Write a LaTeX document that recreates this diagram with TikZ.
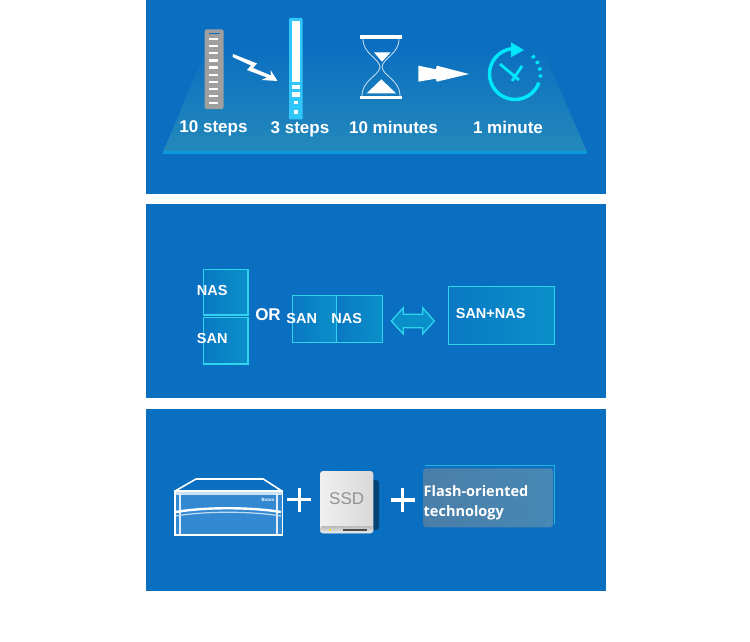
\documentclass[tikz,border=0pt]{standalone}
\usepackage{fontspec}
\setmainfont{Liberation Sans}
\newfontfamily\flashfont{Open Sans}
\usetikzlibrary{patterns,shadings}

\definecolor{panelblue}{HTML}{0A6EC1}
\definecolor{cellblue}{HTML}{0A90C9}
\definecolor{cellline}{HTML}{2FD3EC}
\definecolor{barcyan}{HTML}{2EC6FB}
\definecolor{clockcyan}{HTML}{00E6FA}
\definecolor{floorline}{HTML}{0A9ADC}
\definecolor{floormid}{HTML}{3A8CC8}
\definecolor{floorlow}{HTML}{2489BA}
\definecolor{unitblue}{HTML}{3289D2}
\definecolor{flashleft}{HTML}{4A7EA8}
\definecolor{flashmid}{HTML}{33699A}
\definecolor{flashright}{HTML}{4888B4}

\tikzset{
    panelbox/.style={fill=panelblue,draw=none},
    cellbox/.style={left color=panelblue!70!cellblue,right color=cellblue,draw=cellline,line width=1.3pt},
    steplabel/.style={text=white,font=\bfseries\fontsize{17}{20}\selectfont,inner sep=0pt},
    boxlabel/.style={text=white,font=\bfseries\fontsize{14.5}{18}\selectfont,inner sep=0pt},
    flashlabel/.style={anchor=west,text=white,font=\flashfont\bfseries\fontsize{14.5}{18}\selectfont,inner sep=0pt},
    clockline/.style={draw=clockcyan,line width=3.5pt},
    plusline/.style={draw=white,line width=3.4pt}
}

\begin{document}
\begin{tikzpicture}[x=1pt,y=-1pt]
    \useasboundingbox (0,0) rectangle (750,642);
    \fill[white] (0,0) rectangle (750,642);

    % panels
    \path[panelbox] (146,0) rectangle (606,194);
    \path[panelbox] (146,204) rectangle (606,398);
    \path[panelbox] (146,409) rectangle (606,591);

    % floor
    \shade[top color=panelblue,middle color=floormid,bottom color=floorlow]
        (163,152) -- (208,45) -- (541,45) -- (587,152) -- cycle;
    \fill[floorline] (163,151) rectangle (587,153.5);

    % 10 steps bar
    \fill[gray!75,rounded corners=1.5pt] (204.5,29.5) rectangle (223.5,109);
    \fill[panelblue] (208.5,33) rectangle (219.5,34.5);
    \foreach \y in {39,46,53.3,60.7,67.7,75,82.3,89.3,96,103}
        \fill[white] (209,\y-1.2) rectangle (218,\y+1.2);

    % 3 steps bar
    \fill[barcyan,rounded corners=1pt] (289,18) rectangle (302.7,119.3);
    \fill[white] (292.3,21) rectangle (299.7,81.7);
    \fill[white] (292.3,85) rectangle (299.7,88.7);
    \fill[white] (292.3,92.3) rectangle (299.7,97);
    \fill[white] (294,101) rectangle (298,104.3);
    \fill[white] (294,110.3) rectangle (298,113.7);

    % zigzag arrow
    \fill[white] (233,54) -- (257,63.5) -- (253,68) -- (271,75.5) -- (270.5,70) -- (277.5,81)
        -- (261.5,80) -- (267,77.5) -- (247,70) -- (251,65.5) -- (232.5,57) -- cycle;

    % hourglass
    \fill[white] (360,35) rectangle (402,39);
    \fill[white] (360,96) rectangle (402,99.3);
    \draw[white!80!panelblue,line width=0.8pt] (363,39) .. controls (363,54) and (379,58) .. (380,67)
        .. controls (379,76) and (362,80) .. (362,96);
    \draw[white!80!panelblue,line width=0.8pt] (399,39) .. controls (399,54) and (383,58) .. (382,67)
        .. controls (383,76) and (400,80) .. (400,96);
    \fill[white] (374,52.3) -- (390.7,52.3) -- (382,61.7) -- cycle;
    \fill[white] (366.7,93.3) -- (396,93.3) -- (381.3,79.3) -- cycle;

    % double head arrow
    \fill[white] (418.3,65.7) -- (436,69.3) -- (436.7,65.7) -- (469,74) -- (436.7,81.7)
        -- (435.7,78.7) -- (418.3,81.7) -- cycle;

    % clock
    \draw[clockline] (512.3,48.6) arc (-96:-340:25.5);
    \fill[clockcyan] (511,42.3) -- (524,50) -- (511,57.3) -- cycle;
    \draw[clockcyan,line width=3.5pt,dash pattern=on 3pt off 4pt] (532.3,55.7) arc (-47:7:25.5);
    \draw[clockcyan,line width=2.8pt] (500,64) -- (519,80);
    \draw[clockcyan,line width=2.8pt] (522,66) -- (512,81);

    % step labels
    \node[steplabel] (tensteps) at (213.5,128.5) {10 steps};
    \node[steplabel] (threesteps) at (300,129) {3 steps};
    \node[steplabel] (tenminutes) at (393.5,127.5) {10 minutes};
    \node[steplabel] (oneminute) at (508,127.5) {1 minute};

    % SAN and NAS boxes
    \draw[cellbox] (203.3,269.3) rectangle (248,315);
    \draw[cellbox] (203.3,317.3) rectangle (248,364);
    \draw[cellbox] (292.7,295.7) rectangle (336.7,342.3);
    \draw[cellbox] (336.7,295.7) rectangle (382.3,342.3);
    \draw[cellbox] (448.3,286.3) rectangle (554.3,344.7);
    \draw[draw=cellline,fill=cellblue,line width=1.3pt] (391.3,321) -- (403.3,307.7) -- (403.3,314.3) -- (422.7,314.3) -- (422.7,307.7)
        -- (434.3,321) -- (422.7,334) -- (422.7,327.7) -- (403.3,327.7) -- (403.3,334) -- cycle;

    \node[boxlabel] (nasleft) at (212.3,291) {NAS};
    \node[boxlabel] (sanleft) at (212.3,338.3) {SAN};
    \node[steplabel] (orlabel) at (268,314.5) {OR};
    \node[boxlabel] (sanmid) at (301.7,318.3) {SAN};
    \node[boxlabel] (nasmid) at (346.7,318.3) {NAS};
    \node[boxlabel] (sannas) at (490.7,313.3) {SAN+NAS};

    % storage unit
    \draw[white,line width=1.6pt,line join=round] (176,490.5) -- (196,479) -- (263.3,479) -- (281,490.5);
    \fill[unitblue] (176,492) rectangle (281.5,534);
    \fill[white!75!unitblue] (175,490) rectangle (282.3,494.5);
    \draw[white,line width=1.6pt] (175,491) rectangle (282.3,535);
    \draw[white!85!unitblue,line width=1.2pt] (180,493) -- (180,534);
    \draw[white!85!unitblue,line width=1.2pt] (277,493) -- (277,534);
    \draw[white,line width=2.4pt] (176,512) .. controls (205,507) and (250,507) .. (281,512);
    \draw[white!70!unitblue,line width=1.2pt] (176,516) .. controls (205,511) and (250,511) .. (281,516);
    \node[text=white,font=\fontsize{4.5}{5}\selectfont\bfseries,inner sep=0pt] (brandlabel) at (268,499.5) {Bston};

    \draw[plusline] (287.3,499.5) -- (311.3,499.5);
    \draw[plusline] (299.3,487.5) -- (299.3,511.5);
    \draw[plusline] (390.7,500) -- (414.7,500);
    \draw[plusline] (402.7,488) -- (402.7,512);

    % SSD
    \fill[black!40!panelblue,rounded corners=3pt] (368,480) rectangle (379,530);
    \shade[left color=white!88!gray,right color=gray!30,rounded corners=3pt] (320,471) rectangle (373.3,533.3);
    \shade[top color=gray!55,bottom color=gray!15,rounded corners=2pt] (320.5,526) rectangle (373,533);
    \fill[black!70] (342.7,529) rectangle (366.7,531);
    \fill[yellow!80!gray] (329,529) rectangle (331,531);
    \node[text=gray!85,font=\fontsize{17}{20}\selectfont,inner sep=0pt] (ssdlabel) at (346.7,499) {SSD};

    % flash box
    \draw[cellline!70!panelblue,line width=0.7pt] (425,465) -- (554,465) -- (554,524);
    \shade[left color=flashleft,middle color=flashmid,right color=flashright,rounded corners=3pt]
        (423.3,468.3) rectangle (553,527.3);
    \node[flashlabel] (flashone) at (423.5,491.5) {Flash-oriented};
    \node[flashlabel] (flashtwo) at (423.5,512.5) {technology};
\end{tikzpicture}
\end{document}
